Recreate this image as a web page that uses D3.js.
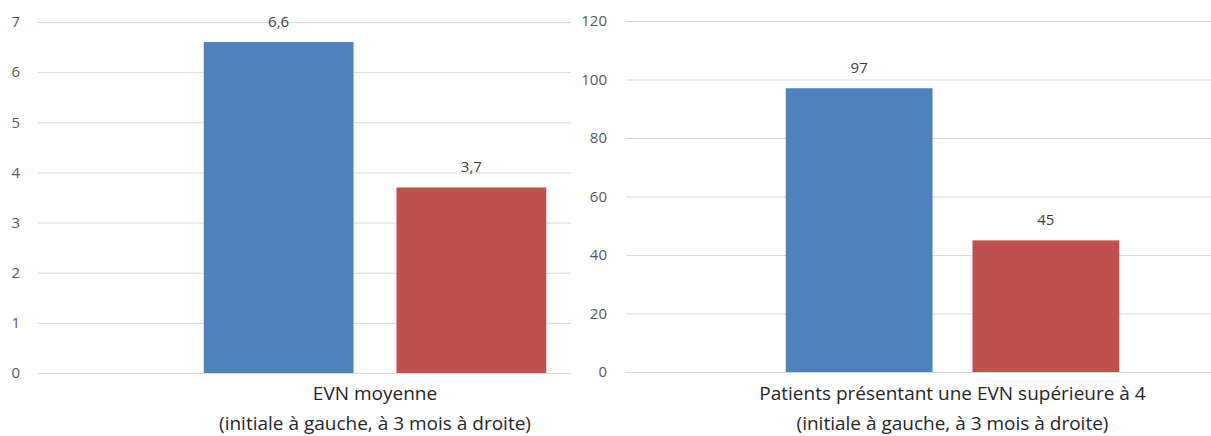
<!DOCTYPE html>
<html><head><meta charset="utf-8">
<script src="https://cdn.jsdelivr.net/npm/d3@7"></script>
<style>body{margin:0;background:#fff}svg{display:block}</style>
</head><body>
<svg id="c" width="1211" height="436"></svg>
<script>
const series = ["initiale", "à 3 mois"];
const colors = ["#4f81bd", "#c0504d"];
const leftValues = [6.6, 3.7];
const leftLabels = ["6,6", "3,7"];
const leftTicks = [0, 1, 2, 3, 4, 5, 6, 7];
const leftCategory = ["EVN moyenne", "(initiale à gauche, à 3 mois à droite)"];
const rightValues = [97, 45];
const rightLabels = ["97", "45"];
const rightTicks = [0, 20, 40, 60, 80, 100, 120];
const rightCategory = ["Patients présentant une EVN supérieure à 4", "(initiale à gauche, à 3 mois à droite)"];

const svg = d3.select("#c");
const font = "'Open Sans', sans-serif";

function panel(cfg) {
  const g = svg.append("g");
  if (cfg.bg) g.append("rect").attr("x", cfg.bg[0]).attr("y", 0).attr("width", cfg.bg[1] - cfg.bg[0]).attr("height", 436).attr("fill", "#fff");
  const y = d3.scaleLinear().domain([0, cfg.max]).range(cfg.yr);
  const x = d3.scaleBand().domain(series).range(cfg.xr).paddingInner(cfg.pi).paddingOuter(cfg.po);
  const axis = d3.axisLeft(y).tickValues(cfg.ticks).tickFormat(d3.format("d")).tickSize(-(cfg.xr[1] - cfg.xr[0])).tickPadding(cfg.tp);
  const ag = g.append("g").attr("transform", `translate(${cfg.xr[0]},0)`).call(axis);
  ag.select(".domain").remove();
  ag.selectAll(".tick line").attr("stroke", "#d9d9d9").attr("stroke-width", 1);
  ag.selectAll(".tick text").attr("fill", "#595959").style("font-family", font).style("font-size", "15px");
  g.selectAll("rect.bar").data(cfg.values).enter().append("rect").attr("class", "bar")
    .attr("x", (d, i) => x(series[i])).attr("width", x.bandwidth())
    .attr("y", d => y(d)).attr("height", d => y(0) - y(d))
    .attr("fill", (d, i) => colors[i]);
  g.selectAll("text.lab").data(cfg.values).enter().append("text").attr("class", "lab")
    .attr("x", (d, i) => x(series[i]) + x.bandwidth() / 2).attr("y", d => y(d) - 15)
    .attr("text-anchor", "middle").attr("fill", "#404040")
    .style("font-family", font).style("font-size", "15px")
    .text((d, i) => cfg.labels[i]);
  const cx = (cfg.xr[0] + cfg.xr[1]) / 2;
  cfg.cat.forEach((t, i) => {
    g.append("text").attr("x", cx).attr("y", 400 + i * 30).attr("text-anchor", "middle")
      .attr("fill", "#262626").style("font-family", font).style("font-size", "19px").text(t);
  });
}

panel({max: 7, yr: [373, 22], xr: [38, 712], pi: 43 / 193, po: 166 / 193, ticks: leftTicks, values: leftValues, labels: leftLabels, cat: leftCategory, tp: 18});
panel({bg: [571, 1211], max: 120, yr: [372, 21], xr: [626, 1279], pi: 40 / 187, po: 160 / 187, ticks: rightTicks, values: rightValues, labels: rightLabels, cat: rightCategory, tp: 19});
</script>
</body></html>
